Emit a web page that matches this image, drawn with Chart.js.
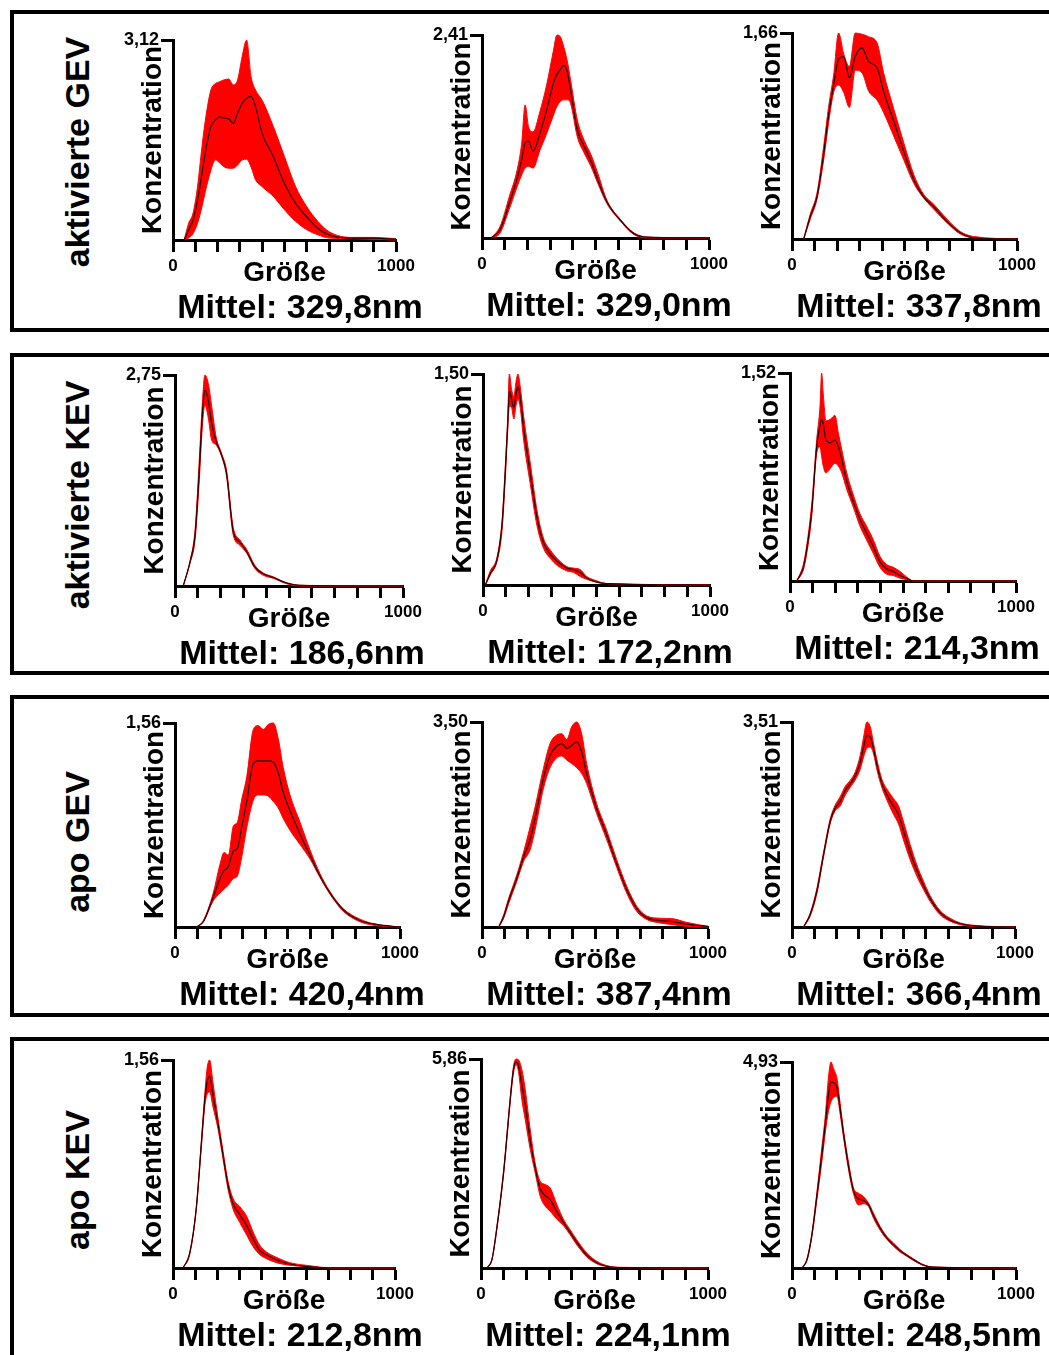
<!DOCTYPE html>
<html>
<head>
<meta charset="utf-8">
<script src="https://cdn.jsdelivr.net/npm/chart.js@4.4.0/dist/chart.umd.min.js"></script>
<style>
  html, body { margin: 0; padding: 0; background: #fff; }
  body { width: 1049px; height: 1355px; position: relative; overflow: hidden;
         font-family: Arial, "Liberation Sans", sans-serif; color: #000; }
  .box { position: absolute; left: 10px; width: 1100px; border: 4px solid #000; }
  .rowlabel { position: absolute; font-weight: bold; font-size: 34px; line-height: 34px;
              white-space: nowrap; transform: translate(-50%, -50%) rotate(-90deg); }
  .mittel { position: absolute; font-weight: bold; font-size: 34px; line-height: 34px;
            white-space: nowrap; transform: translateX(-50%); }
  canvas { position: absolute; }
</style>
</head>
<body>
<script>
// row / panel texts
const rowLabels = ['aktivierte GEV', 'aktivierte KEV', 'apo GEV', 'apo KEV'];
const yMaxValues = [3.12, 2.41, 1.66, 2.75, 1.50, 1.52, 1.56, 3.50, 3.51, 1.56, 5.86, 4.93];
const meanLabels = ['329,8', '329,0', '337,8', '186,6', '172,2', '214,3',
                    '420,4', '387,4', '366,4', '212,8', '224,1', '248,5'];
const xTickLabels = [0, 1000];

// aktivierte GEV
const sizeA1 = [50, 70, 90, 110, 130, 150, 170, 190, 210, 230, 250, 270, 290, 310, 330, 350, 370, 400, 450, 500, 550, 600, 650, 700, 800, 900, 1000];
const upperA1 = [0, 0.26, 0.42, 0.83, 1.46, 1.98, 2.34, 2.44, 2.47, 2.50, 2.51, 2.42, 2.50, 2.86, 3.12, 2.55, 2.34, 2.18, 1.77, 1.30, 0.83, 0.52, 0.29, 0.13, 0.04, 0.04, 0.02];
const meanA1 = [0, 0.16, 0.31, 0.62, 1.04, 1.46, 1.77, 1.87, 1.92, 1.90, 1.89, 1.82, 1.98, 2.13, 2.21, 2.24, 2.08, 1.66, 1.30, 0.88, 0.57, 0.36, 0.18, 0.08, 0.03, 0.03, 0.01];
const lowerA1 = [0, 0.03, 0.10, 0.26, 0.52, 0.83, 1.09, 1.25, 1.20, 1.14, 1.12, 1.12, 1.17, 1.25, 1.26, 1.14, 0.94, 0.83, 0.68, 0.47, 0.29, 0.16, 0.08, 0.03, 0.02, 0.01, 0];

const sizeA2 = [40, 80, 120, 155, 175, 190, 205, 225, 255, 285, 315, 330, 345, 360, 375, 390, 420, 450, 480, 510, 550, 610, 670, 730, 1000];
const upperA2 = [0, 0.14, 0.49, 0.81, 1.13, 1.58, 1.32, 1.26, 1.50, 1.82, 2.23, 2.41, 2.39, 2.27, 2.11, 1.88, 1.40, 1.16, 0.99, 0.77, 0.45, 0.22, 0.06, 0.01, 0];
const meanA2 = [0, 0.10, 0.41, 0.71, 0.93, 1.13, 1.15, 1.03, 1.24, 1.52, 1.84, 1.94, 2.00, 2.05, 1.98, 1.76, 1.28, 1.09, 0.91, 0.69, 0.43, 0.21, 0.05, 0.01, 0];
const lowerA2 = [0, 0.06, 0.34, 0.61, 0.75, 0.83, 0.85, 0.83, 1.04, 1.24, 1.46, 1.56, 1.62, 1.64, 1.64, 1.60, 1.20, 1.01, 0.85, 0.65, 0.41, 0.20, 0.04, 0, 0];

const sizeA3 = [52, 81, 111, 141, 163, 185, 207, 230, 255, 281, 311, 341, 378, 407, 452, 496, 541, 585, 630, 689, 748, 807, 1000];
const upperA3 = [0, 0.20, 0.37, 0.75, 1.07, 1.32, 1.66, 1.49, 1.39, 1.66, 1.65, 1.63, 1.58, 1.34, 1.05, 0.78, 0.52, 0.36, 0.28, 0.16, 0.06, 0.02, 0];
const meanA3 = [0, 0.18, 0.34, 0.69, 1.00, 1.24, 1.45, 1.47, 1.30, 1.47, 1.54, 1.43, 1.38, 1.19, 0.95, 0.71, 0.48, 0.34, 0.26, 0.14, 0.05, 0.01, 0];
const lowerA3 = [0, 0.16, 0.32, 0.64, 0.94, 1.18, 1.24, 1.18, 1.06, 1.36, 1.34, 1.19, 1.12, 1.02, 0.83, 0.64, 0.45, 0.33, 0.24, 0.13, 0.04, 0.01, 0];

// aktivierte KEV
const sizeB1 = [36, 66, 88, 105, 120, 131, 146, 161, 180, 204, 226, 255, 285, 314, 350, 387, 431, 489, 547, 1000];
const upperB1 = [0, 0.33, 0.73, 1.56, 2.38, 2.75, 2.64, 2.34, 1.95, 1.73, 1.51, 0.77, 0.60, 0.48, 0.27, 0.17, 0.12, 0.04, 0.01, 0];
const meanB1 = [0, 0.31, 0.67, 1.43, 2.23, 2.55, 2.42, 2.12, 1.89, 1.71, 1.47, 0.72, 0.57, 0.45, 0.25, 0.16, 0.11, 0.04, 0.01, 0];
const lowerB1 = [0, 0.30, 0.60, 1.30, 2.08, 2.36, 2.19, 1.90, 1.84, 1.69, 1.43, 0.67, 0.53, 0.43, 0.23, 0.14, 0.10, 0.03, 0, 0];

const sizeB2 = [10, 32, 62, 84, 98, 109, 116, 126, 136, 145, 154, 164, 179, 208, 238, 267, 296, 326, 370, 399, 428, 457, 501, 545, 1000];
const upperB2 = [0, 0.10, 0.20, 0.46, 0.84, 1.20, 1.50, 1.39, 1.34, 1.44, 1.50, 1.41, 1.20, 0.87, 0.53, 0.33, 0.25, 0.19, 0.13, 0.12, 0.11, 0.06, 0.03, 0.01, 0];
const meanB2 = [0, 0.08, 0.18, 0.43, 0.80, 1.15, 1.38, 1.32, 1.26, 1.35, 1.41, 1.34, 1.12, 0.80, 0.48, 0.30, 0.22, 0.17, 0.12, 0.11, 0.09, 0.05, 0.02, 0.01, 0];
const lowerB2 = [0, 0.07, 0.17, 0.39, 0.75, 1.10, 1.27, 1.26, 1.18, 1.27, 1.32, 1.26, 1.03, 0.72, 0.42, 0.26, 0.19, 0.14, 0.10, 0.09, 0.06, 0.04, 0.02, 0.01, 0];

const sizeB3 = [29, 44, 59, 74, 96, 118, 133, 140, 147, 159, 177, 199, 214, 229, 251, 280, 310, 339, 369, 398, 428, 457, 487, 516, 546, 1000];
const upperB3 = [0, 0.05, 0.12, 0.26, 0.56, 1.03, 1.28, 1.52, 1.37, 1.17, 1.18, 1.21, 1.08, 0.96, 0.79, 0.63, 0.49, 0.40, 0.30, 0.18, 0.12, 0.10, 0.07, 0.03, 0, 0];
const meanB3 = [0, 0.04, 0.10, 0.23, 0.51, 0.98, 1.14, 1.18, 1.15, 1.03, 1.01, 1.03, 0.98, 0.89, 0.73, 0.58, 0.45, 0.35, 0.25, 0.14, 0.09, 0.07, 0.04, 0.02, 0, 0];
const lowerB3 = [0, 0.03, 0.08, 0.20, 0.47, 0.93, 0.98, 0.91, 0.84, 0.79, 0.82, 0.86, 0.84, 0.79, 0.67, 0.54, 0.40, 0.30, 0.20, 0.10, 0.05, 0.04, 0.02, 0.01, 0, 0];

// apo GEV
const sizeC1 = [96, 126, 170, 200, 218, 237, 259, 277, 296, 319, 348, 370, 393, 415, 437, 459, 481, 511, 556, 600, 644, 689, 748, 822, 896, 1000];
const upperC1 = [0, 0.05, 0.26, 0.48, 0.57, 0.55, 0.77, 0.80, 0.97, 1.15, 1.51, 1.54, 1.51, 1.55, 1.56, 1.44, 1.22, 1.01, 0.80, 0.59, 0.41, 0.27, 0.14, 0.06, 0.02, 0];
const meanC1 = [0, 0.04, 0.23, 0.37, 0.43, 0.46, 0.58, 0.60, 0.76, 0.96, 1.25, 1.27, 1.27, 1.27, 1.26, 1.18, 1.03, 0.89, 0.71, 0.55, 0.39, 0.26, 0.13, 0.05, 0.02, 0];
const lowerC1 = [0, 0.04, 0.20, 0.26, 0.29, 0.32, 0.37, 0.39, 0.53, 0.76, 0.97, 1.01, 1.01, 1.00, 0.96, 0.91, 0.83, 0.74, 0.63, 0.52, 0.38, 0.25, 0.12, 0.04, 0.01, 0];

const sizeC2 = [74, 96, 118, 154, 184, 213, 235, 272, 301, 331, 353, 375, 397, 419, 441, 463, 507, 551, 596, 640, 684, 728, 787, 846, 904, 1000];
const upperC2 = [0, 0.21, 0.49, 0.89, 1.28, 1.71, 2.05, 2.71, 3.13, 3.28, 3.30, 3.20, 3.42, 3.50, 3.30, 2.79, 2.11, 1.66, 1.15, 0.70, 0.36, 0.19, 0.15, 0.14, 0.08, 0.01];
const meanC2 = [0, 0.18, 0.45, 0.83, 1.20, 1.49, 1.86, 2.54, 2.93, 3.09, 3.13, 3.05, 3.10, 3.16, 2.99, 2.62, 2.03, 1.58, 1.08, 0.64, 0.32, 0.16, 0.11, 0.09, 0.05, 0.01];
const lowerC2 = [0, 0.15, 0.40, 0.78, 1.12, 1.32, 1.66, 2.37, 2.72, 2.89, 2.92, 2.85, 2.79, 2.72, 2.62, 2.45, 1.94, 1.50, 1.02, 0.58, 0.27, 0.13, 0.07, 0.04, 0.01, 0];

const sizeC3 = [52, 82, 112, 142, 172, 194, 216, 239, 261, 284, 306, 321, 336, 351, 366, 381, 403, 433, 455, 478, 500, 530, 560, 590, 619, 664, 709, 754, 813, 1000];
const upperC3 = [0, 0.24, 0.67, 1.29, 1.86, 2.09, 2.23, 2.41, 2.51, 2.66, 2.94, 3.25, 3.51, 3.43, 3.14, 2.86, 2.53, 2.32, 2.20, 2.07, 1.80, 1.41, 1.06, 0.78, 0.54, 0.28, 0.15, 0.07, 0.03, 0];
const meanC3 = [0, 0.22, 0.62, 1.25, 1.82, 2.04, 2.15, 2.34, 2.45, 2.59, 2.82, 3.08, 3.28, 3.25, 3.05, 2.77, 2.46, 2.21, 2.07, 1.92, 1.65, 1.28, 0.97, 0.71, 0.49, 0.25, 0.12, 0.06, 0.02, 0];
const lowerC3 = [0, 0.19, 0.58, 1.21, 1.78, 1.99, 2.07, 2.26, 2.39, 2.52, 2.70, 2.91, 3.06, 3.08, 2.96, 2.69, 2.39, 2.11, 1.93, 1.76, 1.49, 1.15, 0.87, 0.64, 0.44, 0.21, 0.10, 0.04, 0.01, 0];

// apo KEV
const sizeD1 = [45, 75, 105, 128, 143, 153, 165, 180, 203, 226, 248, 271, 301, 331, 361, 391, 421, 466, 526, 602, 722, 1000];
const upperD1 = [0, 0.11, 0.46, 0.96, 1.30, 1.49, 1.56, 1.39, 1.12, 0.87, 0.65, 0.52, 0.46, 0.39, 0.27, 0.17, 0.12, 0.08, 0.04, 0.02, 0, 0];
const meanD1 = [0, 0.11, 0.45, 0.94, 1.26, 1.39, 1.44, 1.30, 1.08, 0.84, 0.62, 0.48, 0.40, 0.32, 0.22, 0.13, 0.10, 0.06, 0.03, 0.01, 0, 0];
const lowerD1 = [0, 0.10, 0.44, 0.91, 1.21, 1.30, 1.32, 1.21, 1.04, 0.81, 0.59, 0.44, 0.34, 0.25, 0.16, 0.10, 0.07, 0.04, 0.02, 0.01, 0, 0];

const sizeD2 = [26, 48, 70, 100, 129, 143, 154, 165, 180, 195, 217, 239, 261, 283, 305, 334, 363, 392, 422, 466, 510, 553, 612, 1000];
const upperD2 = [0, 0.25, 1.17, 2.76, 4.81, 5.65, 5.86, 5.84, 5.56, 5.00, 3.87, 2.93, 2.43, 2.34, 2.24, 1.78, 1.37, 1.08, 0.79, 0.42, 0.19, 0.07, 0.02, 0];
const meanD2 = [0, 0.23, 1.13, 2.71, 4.74, 5.56, 5.78, 5.68, 5.14, 4.58, 3.59, 2.80, 2.22, 2.03, 1.92, 1.58, 1.28, 1.00, 0.72, 0.36, 0.15, 0.05, 0.01, 0];
const lowerD2 = [0, 0.22, 1.09, 2.66, 4.67, 5.47, 5.70, 5.51, 4.72, 4.16, 3.32, 2.66, 2.01, 1.73, 1.59, 1.37, 1.19, 0.94, 0.65, 0.31, 0.12, 0.04, 0.01, 0];

const sizeD3 = [45, 67, 89, 111, 134, 149, 163, 174, 186, 201, 215, 230, 253, 275, 297, 319, 342, 364, 394, 423, 453, 483, 513, 542, 587, 632, 1000];
const upperD3 = [0, 0.22, 0.84, 1.81, 2.92, 3.66, 4.57, 4.93, 4.77, 4.53, 3.94, 3.30, 2.51, 1.91, 1.79, 1.71, 1.55, 1.31, 0.99, 0.76, 0.60, 0.44, 0.32, 0.22, 0.08, 0.02, 0];
const meanD3 = [0, 0.20, 0.80, 1.72, 2.75, 3.46, 4.17, 4.45, 4.43, 4.32, 3.81, 3.21, 2.42, 1.84, 1.65, 1.62, 1.51, 1.25, 0.95, 0.72, 0.56, 0.41, 0.30, 0.20, 0.07, 0.02, 0];
const lowerD3 = [0, 0.18, 0.76, 1.63, 2.58, 3.26, 3.76, 3.98, 4.08, 4.11, 3.68, 3.13, 2.33, 1.77, 1.51, 1.54, 1.47, 1.19, 0.90, 0.69, 0.52, 0.38, 0.28, 0.18, 0.06, 0.02, 0];

const panelData = [
  [sizeA1, upperA1, meanA1, lowerA1], [sizeA2, upperA2, meanA2, lowerA2], [sizeA3, upperA3, meanA3, lowerA3],
  [sizeB1, upperB1, meanB1, lowerB1], [sizeB2, upperB2, meanB2, lowerB2], [sizeB3, upperB3, meanB3, lowerB3],
  [sizeC1, upperC1, meanC1, lowerC1], [sizeC2, upperC2, meanC2, lowerC2], [sizeC3, upperC3, meanC3, lowerC3],
  [sizeD1, upperD1, meanD1, lowerD1], [sizeD2, upperD2, meanD2, lowerD2], [sizeD3, upperD3, meanD3, lowerD3]
];

// layout: plot area of each panel on the page (left, right, top, bottom)
const plotBoxes = [
  [173, 396, 40, 240], [482, 709, 35, 238], [792, 1017, 33, 239],
  [175, 403, 375, 586], [483, 710, 374, 585], [790, 1016, 373, 581],
  [175, 400, 723, 927], [482, 708, 722, 927], [792, 1015, 722, 927],
  [173, 395, 1060, 1268], [481, 708, 1059, 1268], [792, 1016, 1062, 1268]
];
const boxTops = [10, 353, 695, 1037];
const boxHeights = [314, 314, 314, 400];
const rowLabelY = [152, 495, 842, 1180];

// y scale box is wide enough for the top label (labels are clipped to it),
// title padding pulls "Konzentration" back next to the axis
const PAD_L = 4, Y_W = 56, PAD_R = 26, PAD_T = 12, X_H = 47, PAD_B = 4;
const Y_TITLE_PAD = Y_W - 34;
const RED = '#ff0000';
const FONT = 'Arial, "Liberation Sans", sans-serif';

Chart.defaults.font.family = FONT;
Chart.defaults.color = '#000';

function addDiv(cls, text, css) {
  const d = document.createElement('div');
  d.className = cls;
  d.textContent = text;
  Object.assign(d.style, css);
  document.body.appendChild(d);
}

boxTops.forEach((t, r) => {
  addDiv('box', '', {top: t + 'px', height: boxHeights[r] + 'px'});
  addDiv('rowlabel', rowLabels[r], {left: '77px', top: rowLabelY[r] + 'px'});
});

function makePanel(i) {
  const [sizes, upper, mean, lower] = panelData[i];
  const [L, R, T, B] = plotBoxes[i];
  const yMax = yMaxValues[i];
  const w = (R - L) + PAD_L + Y_W + PAD_R;
  const h = (B - T) + PAD_T + X_H + PAD_B;
  const canvas = document.createElement('canvas');
  canvas.width = w;
  canvas.height = h;
  canvas.style.left = (L - PAD_L - Y_W) + 'px';
  canvas.style.top = (T - PAD_T) + 'px';
  canvas.style.width = w + 'px';
  canvas.style.height = h + 'px';
  document.body.appendChild(canvas);

  const pts = arr => sizes.map((s, k) => ({x: s, y: arr[k]}));
  const line = {pointRadius: 0, cubicInterpolationMode: 'monotone', clip: false};

  new Chart(canvas, {
    type: 'line',
    data: {
      datasets: [
        {...line, data: pts(upper), borderColor: RED, borderWidth: 1, backgroundColor: RED, fill: '+1', order: 2},
        {...line, data: pts(lower), borderColor: RED, borderWidth: 1, fill: false, order: 1},
        {...line, data: pts(mean), borderColor: '#2a0000', borderWidth: 1.2, fill: false, order: 0}
      ]
    },
    options: {
      responsive: false,
      animation: false,
      devicePixelRatio: 1,
      layout: {padding: {left: PAD_L, right: PAD_R, top: PAD_T, bottom: PAD_B}},
      plugins: {
        legend: {display: false},
        tooltip: {enabled: false},
        filler: {drawTime: 'beforeDatasetsDraw'}
      },
      scales: {
        x: {
          type: 'linear', min: 0, max: 1000,
          ticks: {
            stepSize: 100, autoSkip: false, maxRotation: 0, padding: 4,
            font: {size: 17, weight: 'bold'},
            callback: v => xTickLabels.includes(v) ? String(v) : ''
          },
          grid: {drawOnChartArea: false, tickLength: 12, tickWidth: 3, tickColor: '#000'},
          border: {display: true, width: 3, color: '#000'},
          title: {display: true, text: 'Größe', font: {size: 28, weight: 'bold', lineHeight: 1}, padding: 0},
          afterFit: s => { s.height = X_H; s.paddingLeft = 0; s.paddingRight = 0; }
        },
        y: {
          type: 'linear', min: 0, max: yMax,
          afterBuildTicks: s => { s.ticks = [{value: yMax}]; },
          ticks: {
            padding: 2, font: {size: 18, weight: 'bold'},
            callback: v => v.toFixed(2).replace('.', ',')
          },
          grid: {drawOnChartArea: false, tickLength: 12, tickWidth: 3, tickColor: '#000'},
          border: {display: true, width: 3, color: '#000'},
          title: {display: true, text: 'Konzentration', font: {size: 28, weight: 'bold', lineHeight: 1},
                  padding: {top: Y_TITLE_PAD, bottom: 0}},
          afterFit: s => { s.width = Y_W; s.paddingTop = 0; s.paddingBottom = 0; }
        }
      }
    }
  });

  addDiv('mittel', 'Mittel: ' + meanLabels[i] + 'nm', {left: (L + 127) + 'px', top: (B + 66 - 17) + 'px'});
}

for (let i = 0; i < panelData.length; i++) makePanel(i);
</script>
</body>
</html>
